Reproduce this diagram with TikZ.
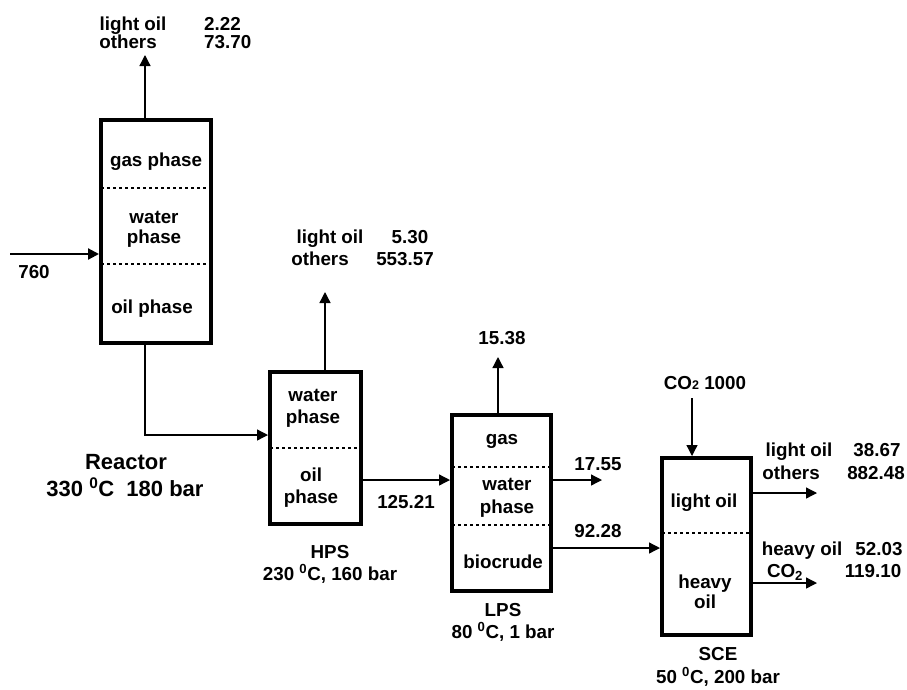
\documentclass[tikz,border=0pt]{standalone}
\usepackage{fontspec}
\setmainfont{Liberation Sans}
\usetikzlibrary{arrows.meta}

\begin{document}
\begin{tikzpicture}[x=1pt,y=-1pt,
  font=\fontsize{18.8}{21}\selectfont\bfseries,
  vessel/.style={draw,line width=4pt,inner sep=0pt},
  layer/.style={dash pattern=on 3pt off 3pt,line width=1.2pt,shorten <=2pt,shorten >=2pt},
  flow/.style={line width=1.3pt,-{Triangle[length=11pt,width=11pt]}},
  lbl/.style={anchor=base,inner sep=0pt},
  big/.style={font=\fontsize{22}{24}\selectfont\bfseries}]
\useasboundingbox (0,0) rectangle (907,689);
% vessels
\node[vessel,minimum width=110pt,minimum height=223pt] (reactor) at (156,231.5) {};
\node[vessel,minimum width=91pt,minimum height=152pt] (hps) at (315.5,448) {};
\node[vessel,minimum width=99pt,minimum height=176pt] (lps) at (501.5,503) {};
\node[vessel,minimum width=89pt,minimum height=177pt] (sce) at (706.5,546.5) {};
% phase borders
\draw[layer] (reactor.west |- 0,188) -- (reactor.east |- 0,188);
\draw[layer] (reactor.west |- 0,264) -- (reactor.east |- 0,264);
\draw[layer] (hps.west |- 0,448) -- (hps.east |- 0,448);
\draw[layer] (lps.west |- 0,467) -- (lps.east |- 0,467);
\draw[layer] (lps.west |- 0,525) -- (lps.east |- 0,525);
\draw[layer] (sce.west |- 0,533) -- (sce.east |- 0,533);
% phases
\node[lbl] (rgasph) at (156,166) {gas phase};
\node[lbl] (rwater) at (154,223) {water};
\node[lbl] (rwater2) at (154,243) {phase};
\node[lbl] (roilph) at (152,313) {oil phase};
\node[lbl] (hwater) at (313,401) {water};
\node[lbl] (hwater2) at (313,423) {phase};
\node[lbl] (hoilph) at (311,481) {oil};
\node[lbl] (hoilph2) at (311,503) {phase};
\node[lbl] (lgasph) at (502,444) {gas};
\node[lbl] (lwaterph) at (507,490) {water};
\node[lbl] (lwaterph2) at (507,513) {phase};
\node[lbl] (lcrudeph) at (503,568) {biocrude};
\node[lbl] (slightph) at (704,507) {light oil};
\node[lbl] (sheavyph) at (705,588) {heavy};
\node[lbl] (sheavyph2) at (705,608) {oil};
% names
\node[lbl,big] (rname) at (126,469) {Reactor};
\node[lbl,big] (rcond) at (125,496) {330 \textsuperscript{0}C\ \ 180 bar};
\node[lbl] (hname) at (330,558) {HPS};
\node[lbl] (hcond) at (330,580) {230 \textsuperscript{0}C, 160 bar};
\node[lbl] (lname) at (503,616) {LPS};
\node[lbl] (lcond) at (503,638) {80 \textsuperscript{0}C, 1 bar};
\node[lbl] (sname) at (718,660) {SCE};
\node[lbl] (scond) at (718,683) {50 \textsuperscript{0}C, 200 bar};
% streams
\coordinate (feed) at (10,254);
\draw[flow,line width=2.2pt] (feed) -- (feed -| reactor.west);
\node[lbl] (feedval) at (34,278) {760};
\coordinate (rgas) at (145,55);
\draw[flow] (rgas |- reactor.north) -- (rgas);
\node[lbl] (rgas1) at (133,30) {light oil};
\node[lbl] (rgas2) at (128,48) {others};
\node[lbl,anchor=base west] (rgasv1) at (204,30) {2.22};
\node[lbl,anchor=base west] (rgasv2) at (204,48) {73.70};
\coordinate (rbot) at (145,435);
\draw[flow] (rbot |- reactor.south) -- (rbot) -- (rbot -| hps.west);
\coordinate (hgas) at (325,292);
\draw[flow] (hgas |- hps.north) -- (hgas);
\node[lbl] (hgas1) at (330,243) {light oil};
\node[lbl] (hgas2) at (320,265) {others};
\node[lbl] (hgasv1) at (410,243) {5.30};
\node[lbl] (hgasv2) at (405,265) {553.57};
\coordinate (hoil) at (0,480);
\draw[flow] (hps.east |- hoil) -- (lps.west |- hoil);
\node[lbl] (hoilv) at (406,508) {125.21};
\coordinate (lgas) at (498,357);
\draw[flow] (lgas |- lps.north) -- (lgas);
\node[lbl] (lgasv) at (502,344) {15.38};
\coordinate (lwater) at (602,480);
\draw[flow] (lps.east |- lwater) -- (lwater);
\node[lbl] (lwaterv) at (598,470) {17.55};
\coordinate (lcrude) at (0,548);
\draw[flow] (lps.east |- lcrude) -- (sce.west |- lcrude);
\node[lbl] (lcrudev) at (598,537) {92.28};
\coordinate (sco) at (692,398);
\draw[flow] (sco) -- (sco |- sce.north);
\node[lbl] (scov) at (705,389) {CO{\fontsize{12.5}{12}\selectfont 2} 1000};
\coordinate (slight) at (817,493);
\draw[flow] (sce.east |- slight) -- (slight);
\node[lbl] (slight1) at (799,456) {light oil};
\node[lbl] (slight2) at (791,479) {others};
\node[lbl] (slightv1) at (877,456) {38.67};
\node[lbl] (slightv2) at (876,479) {882.48};
\coordinate (sheavy) at (817,583);
\draw[flow] (sce.east |- sheavy) -- (sheavy);
\node[lbl] (sheavy1) at (802,555) {heavy oil};
\node[lbl] (sheavy2) at (785,577) {CO\textsubscript{2}};
\node[lbl] (sheavyv1) at (879,555) {52.03};
\node[lbl] (sheavyv2) at (873,577) {119.10};
\end{tikzpicture}
\end{document}
